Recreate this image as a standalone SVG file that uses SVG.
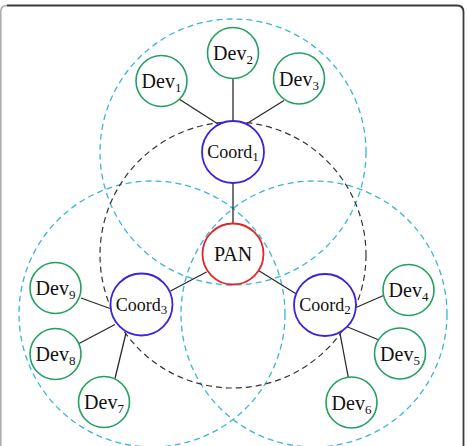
<svg xmlns="http://www.w3.org/2000/svg" width="467" height="446" viewBox="0 0 467 446">
<style>
.range{fill:none;stroke:#3cb4dc;stroke-width:1.3;stroke-dasharray:6 4}
.core{fill:none;stroke:#333;stroke-width:1.2;stroke-dasharray:6 4}
.dev{fill:#fff;stroke:#22a060;stroke-width:1.6}
.coord{fill:#fff;stroke:#3a24d8;stroke-width:1.8}
.pan{fill:#fff;stroke:#e0262a;stroke-width:1.8}
text{font-family:'Liberation Serif','DejaVu Serif',serif;fill:#111;text-anchor:middle}
.lbl{font-size:20px}
.clbl{font-size:18px}
.sub{font-size:13px}
#connectors line{stroke:#2a2a2a;stroke-width:1.3}
</style>
<rect width="467" height="446" fill="#fff"/>
<path d="M0.8,446 V12 Q0.8,5.5 7,5.5" fill="none" stroke="#aaa" stroke-width="1.5"/>
<path d="M7,5.5 H457 Q463.5,5.5 463.5,12 V446" fill="none" stroke="#3a3a3a" stroke-width="1.8"/>
<g id="ranges">
<circle class="range" cx="233" cy="152" r="133"/>
<circle class="range" cx="152" cy="314" r="133"/>
<circle class="range" cx="314" cy="314" r="133"/>
<circle class="core" cx="233" cy="255" r="133"/>
</g>
<g id="connectors">
<line x1="233" y1="183" x2="233" y2="223" stroke="#555"/>
<line x1="233" y1="79" x2="233" y2="121"/>
<line x1="179" y1="99" x2="218" y2="124"/>
<line x1="284" y1="100.5" x2="247" y2="123.5"/>
<line x1="206.5" y1="272" x2="170.5" y2="291"/>
<line x1="81" y1="298" x2="110" y2="308.5"/>
<line x1="79" y1="343.5" x2="115" y2="324.5"/>
<line x1="115" y1="378.5" x2="126" y2="333"/>
<line x1="258.5" y1="270.5" x2="295.5" y2="293.5"/>
<line x1="356" y1="307.5" x2="383.5" y2="295.5"/>
<line x1="346.5" y1="326.5" x2="379" y2="340"/>
<line x1="340" y1="333.5" x2="348.5" y2="378.5"/>
</g>
<g id="pan"><circle class="pan" cx="233" cy="254" r="30.5"/><text class="lbl" x="233" y="261">PAN</text></g>
<g id="coord1"><circle class="coord" cx="233" cy="152" r="31"/><text class="clbl" x="233" y="158">Coord<tspan class="sub" dy="3">1</tspan></text></g>
<g id="coord2"><circle class="coord" cx="325" cy="305" r="31"/><text class="clbl" x="325" y="311">Coord<tspan class="sub" dy="3">2</tspan></text></g>
<g id="coord3"><circle class="coord" cx="141.5" cy="304.5" r="31"/><text class="clbl" x="141.5" y="310.5">Coord<tspan class="sub" dy="3">3</tspan></text></g>
<g id="dev1"><circle class="dev" cx="161.5" cy="81" r="25.5"/><text class="lbl" x="161.5" y="88">Dev<tspan class="sub" dy="4">1</tspan></text></g>
<g id="dev2"><circle class="dev" cx="233" cy="53" r="25.5"/><text class="lbl" x="233" y="60">Dev<tspan class="sub" dy="4">2</tspan></text></g>
<g id="dev3"><circle class="dev" cx="299" cy="78.5" r="25.5"/><text class="lbl" x="299" y="85.5">Dev<tspan class="sub" dy="4">3</tspan></text></g>
<g id="dev4"><circle class="dev" cx="408.5" cy="290" r="25.5"/><text class="lbl" x="408.5" y="297">Dev<tspan class="sub" dy="4">4</tspan></text></g>
<g id="dev5"><circle class="dev" cx="400" cy="353.5" r="25.5"/><text class="lbl" x="400" y="360.5">Dev<tspan class="sub" dy="4">5</tspan></text></g>
<g id="dev6"><circle class="dev" cx="351.5" cy="402.5" r="25.5"/><text class="lbl" x="351.5" y="409.5">Dev<tspan class="sub" dy="4">6</tspan></text></g>
<g id="dev7"><circle class="dev" cx="104" cy="402" r="25.5"/><text class="lbl" x="104" y="409">Dev<tspan class="sub" dy="4">7</tspan></text></g>
<g id="dev8"><circle class="dev" cx="55.5" cy="354" r="25.5"/><text class="lbl" x="55.5" y="361">Dev<tspan class="sub" dy="4">8</tspan></text></g>
<g id="dev9"><circle class="dev" cx="55.5" cy="288" r="25.5"/><text class="lbl" x="55.5" y="295">Dev<tspan class="sub" dy="4">9</tspan></text></g>
</svg>
